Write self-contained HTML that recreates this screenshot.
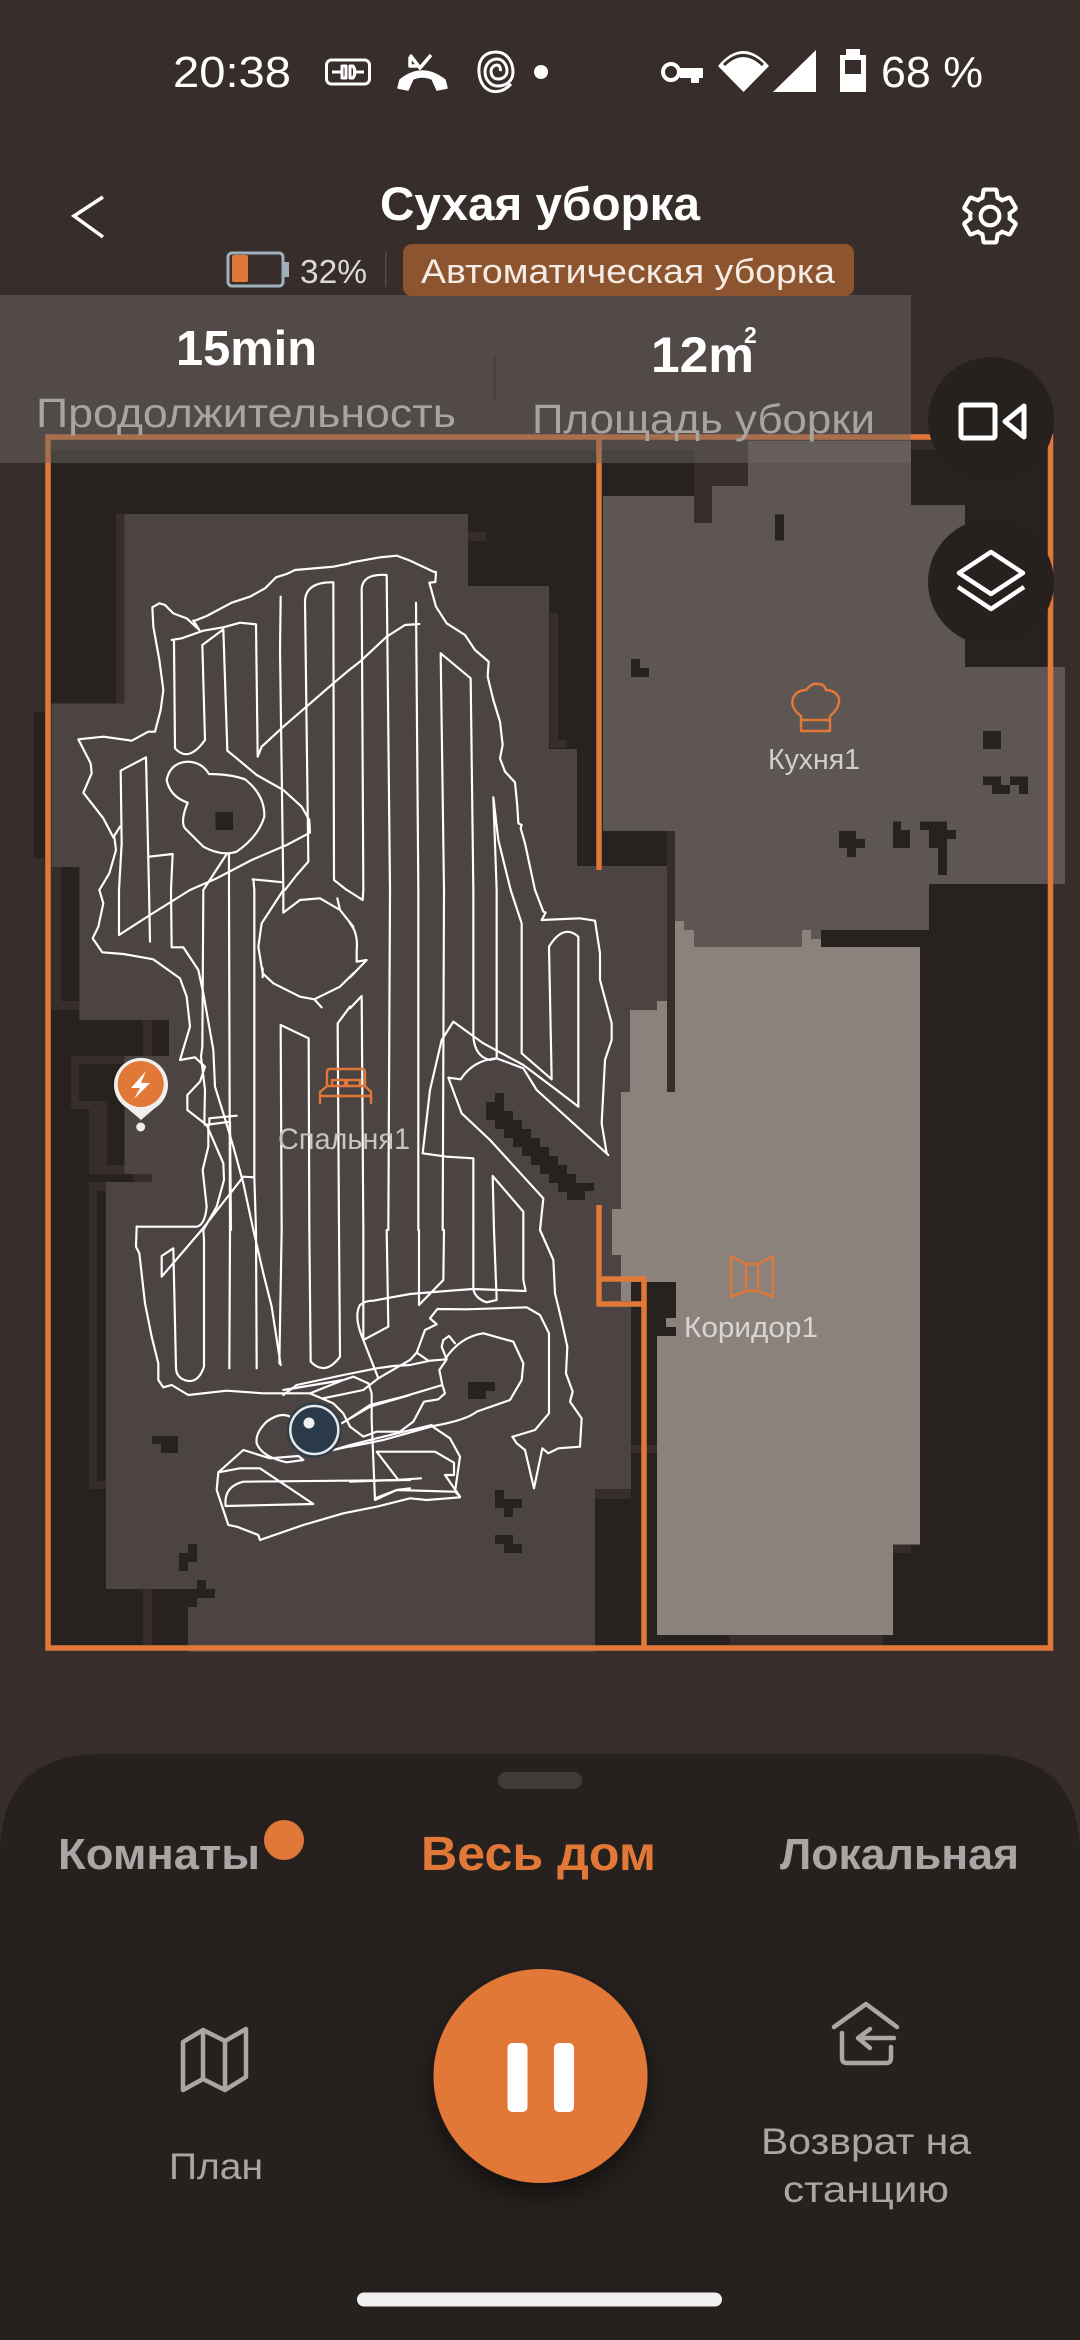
<!DOCTYPE html>
<html lang="ru"><head><meta charset="utf-8"><title>Сухая уборка</title>
<style>
html,body{margin:0;padding:0;background:#372e2c;width:1080px;height:2340px;overflow:hidden}
svg{display:block}
text{font-family:"Liberation Sans","Noto Sans CJK SC",sans-serif}
.b{font-weight:bold}
</style></head><body>
<svg xmlns="http://www.w3.org/2000/svg" width="1080" height="2340" viewBox="0 0 1080 2340">
<defs><filter id="sh" x="-30%" y="-30%" width="160%" height="170%"><feDropShadow dx="0" dy="12" stdDeviation="14" flood-color="#000" flood-opacity=".55"/></filter></defs>
<rect width="1080" height="2340" fill="#372e2c"/>

<!-- map base -->
<g shape-rendering="crispEdges">
<rect x="51" y="450" width="997" height="1195" fill="#27221f"/>
<rect x="34" y="712" width="11" height="146" fill="#27221f"/>
<g fill="#372e2c">
<rect x="116" y="514" width="9" height="190"/><rect x="468" y="532" width="18" height="9"/>
<rect x="550" y="613" width="8" height="135"/><rect x="558" y="740" width="9" height="8"/>
<rect x="694" y="450" width="54" height="36"/><rect x="694" y="486" width="18" height="37"/>
<rect x="667" y="831" width="8" height="261"/>
<rect x="51" y="867" width="10" height="143"/><rect x="61" y="1001" width="19" height="9"/>
<rect x="143" y="1020" width="9" height="36"/>
<rect x="71" y="1056" width="54" height="53"/><rect x="89" y="1109" width="36" height="65"/>
<rect x="134" y="1174" width="18" height="8"/><rect x="89" y="1182" width="17" height="307"/>
<rect x="143" y="1589" width="9" height="62"/>
<rect x="631" y="1445" width="26" height="8"/><rect x="595" y="1489" width="36" height="10"/>
<rect x="730" y="1635" width="153" height="10"/><rect x="893" y="1544" width="18" height="9"/>
</g>
<g fill="#27221f">
<rect x="79" y="1064" width="46" height="37"/><rect x="107" y="1101" width="18" height="64"/>
<rect x="89" y="1174" width="45" height="8"/><rect x="97" y="1191" width="9" height="290"/>
</g>
<!-- bedroom -->
<polygon fill="#4c4442" points="124.5,514 468,514 468,586 549,586 549,749 577,749 577,866 667,866 667,1100 621,1100 621,1301 631,1301 631,1489 595,1489 595,1652 188,1652 188,1589 106,1589 106,1182 152,1182 152,1174 124.5,1174 124.5,1056 169,1056 169,1020 79.6,1020 79.6,867 51.4,867 51.4,703.5 124.5,703.5"/>
<!-- kitchen -->
<polygon fill="#5e5653" points="603,496 694,496 694,523 712,523 712,486 748,486 748,441 911,441 911,505 965,505 965,667 1065,667 1065,884 929,884 929,930 821,930 821,947 694,947 694,930 684,930 684,921 675,921 675,831 603,831"/>
<!-- corridor -->
<polygon fill="#8b827c" points="675,921 684,921 684,930 694,930 694,947 802,947 802,930 811,930 811,939 821,939 821,947 920,947 920,1544.5 893,1544.5 893,1635 657,1635 657,1336 676,1336 676,1327 666,1327 666,1318 676,1318 676,1282 631,1282 631,1301 621,1301 621,1255 612,1255 612,1209 621,1209 621,1092 630,1092 630,1010 657,1010 657,1001 667,1001 667,1092 675,1092"/>
<!-- obstacles -->
<g fill="#27221f">
<rect x="215.5" y="812" width="17.5" height="18"/>
<rect x="631" y="659" width="9" height="18"/><rect x="640" y="668" width="9" height="9"/>
<rect x="775" y="514.5" width="9" height="26"/>
<rect x="983" y="731" width="18" height="18"/>
<rect x="983" y="776.5" width="18" height="8.5"/><rect x="992" y="785" width="18" height="9"/><rect x="1010" y="776.5" width="18" height="8.5"/><rect x="1019" y="785" width="9" height="9"/>
<rect x="839" y="831" width="17" height="17"/><rect x="847" y="839" width="18" height="9"/><rect x="847" y="848" width="9" height="9"/>
<rect x="893" y="821.5" width="8" height="26.5"/><rect x="901" y="830" width="9" height="18"/>
<rect x="920" y="821.5" width="27" height="8.5"/><rect x="929" y="830" width="27" height="9"/><rect x="929" y="839" width="18" height="9"/><rect x="938" y="848" width="9" height="27"/>
<rect x="821" y="930" width="108" height="17"/>
<rect x="152" y="1436" width="26" height="8"/><rect x="161" y="1444" width="17" height="9"/>
<rect x="468" y="1382" width="27" height="9"/><rect x="468" y="1391" width="18" height="8"/>
<rect x="495" y="1490" width="9" height="9"/><rect x="495" y="1499" width="27" height="9"/><rect x="504" y="1508" width="9" height="9"/>
<rect x="495" y="1535" width="18" height="9"/><rect x="504" y="1544" width="18" height="9"/>
<rect x="188" y="1544" width="9" height="9"/><rect x="179" y="1553" width="18" height="9"/><rect x="179" y="1562" width="9" height="9"/>
<rect x="197" y="1580" width="9" height="9"/><rect x="152" y="1589" width="63" height="9"/><rect x="152" y="1598" width="45" height="9"/><rect x="152" y="1607" width="36" height="44"/>
<!-- diagonal -->
<rect x="495" y="1093" width="9" height="9"/><rect x="486" y="1102" width="18" height="18"/><rect x="495" y="1111" width="18" height="18"/><rect x="504" y="1120" width="18" height="18"/><rect x="513" y="1129" width="18" height="18"/><rect x="522" y="1138" width="18" height="18"/><rect x="531" y="1147" width="18" height="18"/><rect x="540" y="1156" width="18" height="18"/><rect x="549" y="1165" width="18" height="18"/><rect x="558" y="1174" width="18" height="18"/><rect x="567" y="1183" width="27" height="8"/><rect x="567" y="1191" width="18" height="9"/>
</g>
</g>
<!-- orange room frames -->
<g fill="none" stroke="#e27838" stroke-width="5.5">
<rect x="48" y="437" width="1002.5" height="1211"/>
<path d="M599 437V870M599 1205V1304H644M599 1279H644M644 1276V1650"/>
</g>

<!-- trajectory -->
<g fill="none" stroke="#fff" stroke-width="6.5" stroke-linejoin="round" stroke-linecap="round">
<g transform="translate(70,550) scale(.33333)">
<path d="M370 212L375 212 410 198 485 158 540 140 585 115 618 82 650 72 675 60 790 50 840 40"/>
<path d="M370 212L388 240 350 205 310 190 285 165 268 160 247 172 250 230 268 330 280 420 272 480 255 545 235 545 185 572 100 560 25 568 62 640 65 670 40 728 100 805 130 862 150 830M133 862L138 900 118 970 88 1020"/>
<path d="M305 270L335 265 400 242 460 232 510 218 558 223 563 620 575 590 640 530 790 400 840 358"/>
<path d="M312 275L315 595Q355 640 405 570L397 285 460 238 472 602 500 625 560 675 640 720 695 770 718 810 720 848 650 885 545 930 440 985 360 1020"/>
<path d="M632 140L630 300 640 1020M548 988L640 997M550 988L553 1020"/>
<path d="M705 150L715 935 680 975 645 1020M705 150Q710 95 790 97L792 990 830 1020"/>
<path d="M353 758Q300 740 290 690 300 640 350 635 395 635 417 672 480 672 525 688 585 735 583 800 565 860 500 905 455 920 400 890L345 835Q330 815 353 758Z"/>
<path d="M477 912V1020M470 912L400 1020"/>
<path d="M152 662L228 622 237 1020M152 662L155 880 147 1020M237 920L308 912 303 1020"/>
</g>
<g transform="translate(350,550) scale(.33333)">
<path d="M0 38L90 22 140 17 180 32 250 65 258 66 256 96 238 98 258 170 290 220 345 255 375 300 410 330 416 335 413 380 430 450 450 515 458 585 450 625 465 665 495 697 502 770 505 820 515 825 512 835 525 880 540 950 555 1020"/>
<path d="M35 115Q40 70 110 75L120 1020M35 115L40 1020"/>
<path d="M198 158L205 1020M0 358L30 335 110 260 165 225 208 222"/>
<path d="M272 310L362 385 370 1020M272 310L282 1020M430 742L440 1020M430 742L445 870 482 1020"/>
</g>
<g transform="translate(70,890) scale(.33333)">
<path d="M88 0L100 40 85 110 68 145 97 187 160 192 250 208 330 265 350 320 360 410 330 510 375 502 405 530 390 575 352 615V660L410 705 460 820 462 870 440 950 400 1020"/>
<path d="M147 0V135L240 75 360 0M237 0L240 155M303 0L305 172H340L385 240 400 310 430 480 435 590 460 670 490 770 520 880 550 1020"/>
<path d="M400 0L397 470 393 500 405 600 403 700M418 685L500 677M418 685V705M405 705L480 695 483 1020M415 710V770L398 840 410 950 Q405 1005 380 1010H200"/>
<path d="M477 0L480 1020M553 0V860M520 860L553 862 558 1020M520 860L395 1020"/>
<path d="M640 0L575 100 565 170 578 250 610 280 690 320 733 328 755 352M733 328L810 290 850 250M578 262V235M640 68V0M640 68L690 30 750 25 810 60 802 25M810 60L850 110"/>
<path d="M632 405L716 445 718 1020M632 405L635 1020M840 350L803 400 807 1020"/>
</g>
<g transform="translate(350,890) scale(.33333)">
<path d="M-9 0L38 30 40 0M0 100Q25 130 20 180V215L50 210 0 262M0 355L35 318 40 1020M120 0L115 1020M205 0V1020M282 0L278 1020M370 0V440Q375 500 420 510L440 505V0"/>
<path d="M482 0L515 100V490L605 568 597 170Q640 100 685 140V650M555 0L580 65 587 68 575 90 690 85 735 92 750 190V270L785 400V450L765 510 755 700 770 790"/>
<path d="M685 650L620 600 520 525 400 460 310 395 275 450 240 600 218 790 290 800 370 805V1020"/>
<path d="M440 505L520 535 560 600 775 795"/>
<path d="M295 563L332 568Q370 510 440 505M295 563L335 670 420 750 580 925 570 1020"/>
<path d="M428 858L520 965V1020M428 858L432 1020"/>
</g>
<g transform="translate(130,1230) scale(.33333)">
<path d="M20 -10L18 50 28 70 45 220 65 320 85 400V450L100 472 125 465 175 495 290 482 400 490 540 490 610 520 640 550 660 590"/>
<path d="M220 0L222 30V410Q205 460 170 452 140 445 138 415L130 55 95 78V140L215 0"/>
<path d="M300 0L298 415M378 0L380 415M370 0L400 130 425 230 452 405M455 0L448 400M538 0L542 395Q585 440 630 380L627 0"/>
<path d="M700 0V330L745 445M770 0L775 290 700 330Q670 260 690 225 705 212 730 212L840 192"/>
<path d="M460 495L500 465 640 435 740 415 790 408 840 405M460 480L640 450 670 440 715 460 725 490V570L735 810 800 780 840 775M540 490L640 450M580 505L700 480 745 445 840 390M635 580L720 530 840 495"/>
<path d="M480 560Q450 545 410 575 375 610 380 640 395 680 470 697L520 690 505 678 420 685 340 660 265 727 330 715 390 715 550 822 287 828Q280 770 340 755L840 750"/>
<path d="M265 727L260 780 295 885 320 890 385 915 390 930 520 885 640 850 740 830 840 805M610 660L665 648M610 660L660 645"/>
</g>
<g transform="translate(350,1230) scale(.33333)">
<path d="M180 192L300 182 370 177 527 183 520 150V0M370 177Q375 205 410 217L440 210 432 0M370 177V0M207 225L280 150 282 0M207 225V0"/>
<path d="M180 390L200 368 225 300 260 283 240 265 262 237 350 238 530 232 570 255 597 310V550L555 600 495 618 487 620 500 640 525 660 552 775 577 655 595 670 625 655 690 650 695 565 660 515 668 485 648 430 652 350 632 260 615 190 610 90 570 0"/>
<path d="M180 405L240 392 290 388M200 368L235 392M290 388L275 350 280 330 297 318 315 340M285 388Q330 320 400 310L490 335 520 400 515 450 480 510 380 545Q350 570 250 588L100 630 0 650M245 585L100 620 0 645"/>
<path d="M290 388L268 420 277 465 160 500 60 525 0 565M277 465L285 490 265 508 222 515 190 575 150 605H80L40 620 0 590"/>
<path d="M245 588L300 625 330 680 315 785 330 800 285 735H312V698L255 665H80L145 750M213 745L140 750 0 755"/>
<path d="M75 805L140 780 310 785M180 805L230 810 330 802"/>
</g>
</g>

<!-- robot -->
<circle cx="314.3" cy="1430" r="27.7" fill="#2e3d4a"/>
<circle cx="314.3" cy="1430" r="24" fill="#2a3a48" stroke="#e6eaec" stroke-width="2.5"/>
<circle cx="309" cy="1423" r="5.5" fill="#eef0f1"/>
<!-- charger pin -->
<path d="M141 1120L127 1108A27 27 0 1 1 155 1108Z" fill="#f1efed"/>
<circle cx="140.7" cy="1084" r="23" fill="#e27838"/>
<path d="M146 1071L131 1088H140L134 1099 150 1083H141Z" fill="#fff"/>
<circle cx="140.7" cy="1127" r="4.5" fill="#eee"/>

<!-- room icons -->
<g fill="none" stroke="#e27838" stroke-width="2.4" stroke-linejoin="round" stroke-linecap="round">
<path d="M327 1086V1072Q327 1069 330 1069H362Q365 1069 365 1072V1086M320 1103V1092L327 1086H365L371 1092V1103M320 1096H371M332 1086V1080H345V1086M347 1086V1080H360V1086"/>
<path d="M801 716Q790 708 793 698 797 690 806 690 812 683 816 684 824 683 826 690 835 690 839 698 840 708 830 716V731H801ZM801 720H830"/>
<path d="M731 1256V1297L746 1291H758L773 1297V1256L758 1264H746ZM746 1264V1291M758 1264V1291"/>
<path d="M749.5 1277v2" stroke-width="1.5"/>
</g>
<text x="278" y="1149" font-size="30" fill="#c9c5c3" textLength="132" lengthAdjust="spacingAndGlyphs">Спальня1</text>
<text x="768" y="769" font-size="29" fill="#d2cecb" textLength="92" lengthAdjust="spacingAndGlyphs">Кухня1</text>
<text x="684" y="1337" font-size="29" fill="#d8d5d3" textLength="134" lengthAdjust="spacingAndGlyphs">Коридор1</text>

<!-- overlay stats panel -->
<rect x="0" y="295" width="911" height="168" fill="rgb(109,102,98)" fill-opacity=".5" shape-rendering="crispEdges"/>
<rect x="494" y="355" width="1.5" height="47" fill="#463e3b"/>
<text class="b" x="176" y="365" font-size="49" fill="#fff" textLength="141" lengthAdjust="spacingAndGlyphs">15min</text>
<text class="b" x="651" y="372" font-size="50" fill="#fff" textLength="103" lengthAdjust="spacingAndGlyphs">12m</text>
<text class="b" x="744" y="343" font-size="23" fill="#fff">2</text>
<text x="36" y="427" font-size="41" fill="#a8a4a2" textLength="420" lengthAdjust="spacingAndGlyphs">Продолжительность</text>
<text x="532" y="433" font-size="41" fill="#a8a4a2" textLength="343" lengthAdjust="spacingAndGlyphs">Площадь уборки</text>

<!-- header -->
<text x="173" y="87" font-size="44" fill="#fff" textLength="118" lengthAdjust="spacingAndGlyphs">20:38</text>
<text x="881" y="87" font-size="44" fill="#fff" textLength="102" lengthAdjust="spacingAndGlyphs">68 %</text>
<!-- status icons -->
<g fill="none" stroke="#fff" stroke-width="3" stroke-linejoin="round">
<rect x="326.5" y="60" width="43" height="24" rx="5"/>
<path d="M332 72H342M342 66H346V78H342ZM350 66H353Q357 72 353 78H350ZM353 72H364"/>
<path d="M410 55L420 68 431 55M410 57V66H417" stroke-width="3.5"/>
<path d="M398 88L400 80Q422 62 445 80L447 88 437 90 432 79Q422 75 413 79L408 90Z" fill="#fff" stroke-width="1.5"/>
<path d="M511 84C498 98 480 92 479 72 478 58 486 52 496 52 507 52 513 62 513 72 513 81 506 86 498 86 490 86 485 79 485 72 485 65 490 59 497 59 503 59 507 65 507 71 507 76 503 79 498 79 493 79 491 75 491 71 491 68 494 65 497 65 500 65 501 69 500 71" stroke-width="3"/>
<circle cx="671" cy="72" r="8" stroke-width="4"/>
<path d="M680 69H702V77H698V82H692V77H680" stroke-width="2" fill="#fff"/>
</g>
<circle cx="541" cy="72" r="7" fill="#fff"/>
<path d="M718 66Q743 36 769 66L743.5 92Z" fill="#fff"/>
<path d="M724 65Q743 46 763 65" stroke="#372e2c" stroke-width="3" fill="none"/>
<polygon points="816,50 816,92 773,92" fill="#fff"/>
<path d="M846 49H860V55H866V92H840V55H846Z" fill="#fff"/>
<rect x="845" y="60" width="16" height="14" fill="#372e2c"/>

<path d="M103 197L74 216 103 237" fill="none" stroke="#fff" stroke-width="3.5"/>
<text class="b" x="380" y="220" font-size="47" fill="#fff" textLength="320" lengthAdjust="spacingAndGlyphs">Сухая уборка</text>
<g transform="translate(957,183) scale(2.75)" fill="none" stroke="#fff" stroke-width="1.5"><path d="M19.14 12.94c.04-.3.06-.61.06-.94 0-.32-.02-.64-.07-.94l2.03-1.58c.18-.14.23-.41.12-.61l-1.92-3.32c-.12-.22-.37-.29-.59-.22l-2.39.96c-.5-.38-1.03-.7-1.62-.94l-.36-2.54c-.04-.24-.24-.41-.48-.41h-3.84c-.24 0-.43.17-.47.41l-.36 2.54c-.59.24-1.13.57-1.62.94l-2.39-.96c-.22-.08-.47 0-.59.22L2.74 8.87c-.12.21-.08.47.12.61l2.03 1.58c-.05.3-.09.63-.09.94s.02.64.07.94l-2.03 1.58c-.18.14-.23.41-.12.61l1.92 3.32c.12.22.37.29.59.22l2.39-.96c.5.38 1.03.7 1.62.94l.36 2.54c.05.24.24.41.48.41h3.84c.24 0 .44-.17.47-.41l.36-2.54c.59-.24 1.13-.56 1.62-.94l2.39.96c.22.08.47 0 .59-.22l1.92-3.32c.12-.22.07-.47-.12-.61l-2.01-1.58z"/><circle cx="12" cy="12" r="3.4"/></g>

<!-- battery + tag -->
<rect x="228" y="253" width="55" height="33" rx="4" fill="none" stroke="#9fb0bc" stroke-width="3"/>
<rect x="283" y="262" width="6" height="15" fill="#9fb0bc"/>
<rect x="232" y="255" width="16" height="27" rx="2" fill="#e27838"/>
<text x="300" y="283" font-size="33" fill="#dcdad9" textLength="67" lengthAdjust="spacingAndGlyphs">32%</text>
<rect x="385" y="252" width="1.5" height="35" fill="#544c49"/>
<rect x="403" y="244" width="451" height="52" rx="9" fill="#8c5530"/>
<text x="421" y="283" font-size="34" fill="#f5ece5" textLength="414" lengthAdjust="spacingAndGlyphs">Автоматическая уборка</text>

<!-- floating buttons -->
<circle cx="991" cy="420" r="63" fill="#26211f"/>
<circle cx="991" cy="582" r="63" fill="#26211f"/>
<g fill="none" stroke="#fff" stroke-width="5" stroke-linejoin="round">
<rect x="961" y="405" width="34" height="33" rx="2"/>
<path d="M1024 406V437L1005 421.5Z"/>
<path d="M991 552L1023 573 991 594 959 573Z" stroke-width="4.5"/>
<path d="M958 587L991 609 1024 587" stroke-width="4.5"/>
</g>

<!-- bottom panel -->
<path d="M0 2340V1854Q0 1754 103 1754H977Q1080 1754 1080 1854V2340Z" fill="#26211f"/>
<rect x="498" y="1772" width="84" height="17" rx="8" fill="#3f3b39"/>
<text class="b" x="58" y="1869" font-size="44" fill="#a9a7a6" textLength="202" lengthAdjust="spacingAndGlyphs">Комнаты</text>
<circle cx="284" cy="1840" r="20" fill="#e27838"/>
<text class="b" x="421" y="1870" font-size="48" fill="#e27838" textLength="235" lengthAdjust="spacingAndGlyphs">Весь дом</text>
<text class="b" x="780" y="1869" font-size="44" fill="#a9a7a6" textLength="239" lengthAdjust="spacingAndGlyphs">Локальная</text>

<circle cx="540.5" cy="2076" r="107" fill="#e27838" filter="url(#sh)"/>
<rect x="507.5" y="2043" width="20" height="69" rx="5" fill="#fff"/>
<rect x="554" y="2043" width="20" height="69" rx="5" fill="#fff"/>

<g fill="none" stroke="#a9a7a6" stroke-width="4.5" stroke-linejoin="round" stroke-linecap="round">
<path d="M183 2042L203 2030 225 2041 246 2029V2077L225 2090 203 2079 183 2090ZM203 2030V2079M225 2041V2090"/>
<path d="M834 2027L866 2004 897 2027"/>
<path d="M842 2033V2058Q842 2063 847 2063H886Q891 2063 891 2058V2047"/>
<path d="M894 2038H859M870 2029L858 2038 870 2048"/>
</g>
<text x="169" y="2179" font-size="37" fill="#a9a7a6" textLength="94" lengthAdjust="spacingAndGlyphs">План</text>
<text x="761" y="2154" font-size="37" fill="#a9a7a6" textLength="210" lengthAdjust="spacingAndGlyphs">Возврат на</text>
<text x="783" y="2202" font-size="37" fill="#a9a7a6" textLength="166" lengthAdjust="spacingAndGlyphs">станцию</text>

<rect x="357" y="2292.5" width="365" height="14" rx="7" fill="#f0f0f1"/>
</svg>
</body></html>
